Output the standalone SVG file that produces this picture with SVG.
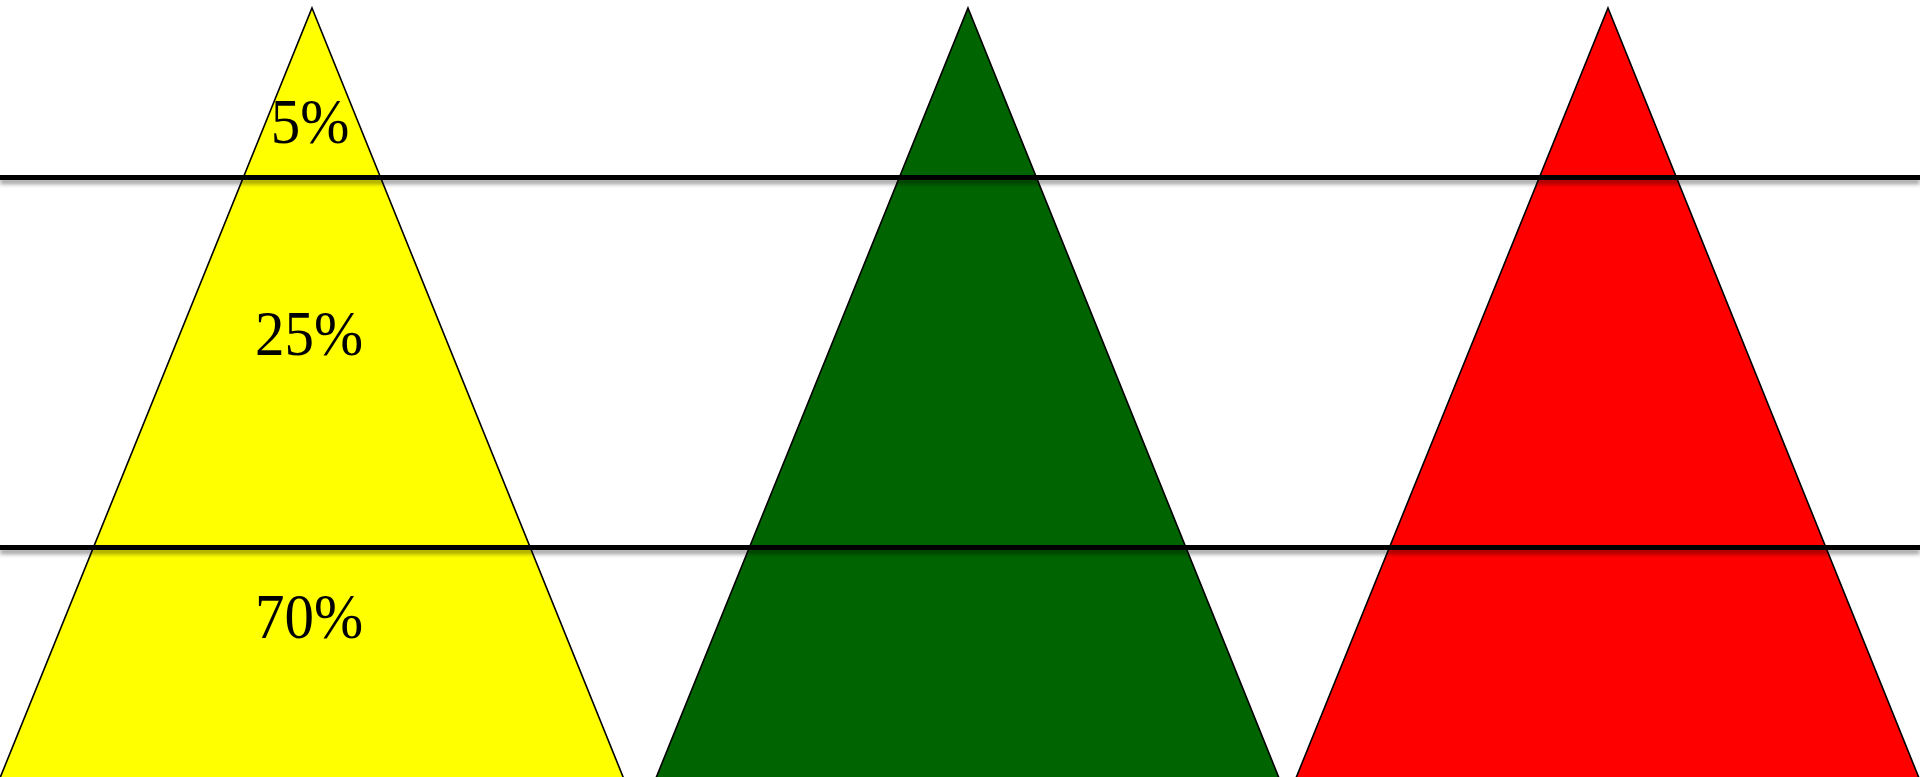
<svg xmlns="http://www.w3.org/2000/svg" width="1920" height="777" viewBox="0 0 1920 777">
<defs>
<style>
.tri{stroke:#000;stroke-width:1.6;stroke-linejoin:miter}
.lbl{font-family:"Liberation Serif","Times New Roman",Times,serif;font-size:59px;fill:#000;text-anchor:middle}
.hl{stroke:#000;stroke-width:5;filter:url(#sh)}
</style>
<filter id="sh" filterUnits="userSpaceOnUse" x="-10" y="0" width="1940" height="777">
<feDropShadow dx="0" dy="4" stdDeviation="2" flood-color="#000" flood-opacity="0.4"/>
</filter>
</defs>
<rect width="1920" height="777" fill="#fff"/>
<g id="pyramid-yellow">
<polygon class="tri" fill="#ffff00" points="312,8 623.5,778 0,778"/>
<text class="lbl" transform="translate(310,143) scale(1,1.08)">5%</text>
<text class="lbl" transform="translate(309,355) scale(1,1.08)">25%</text>
<text class="lbl" transform="translate(309,638) scale(1,1.08)">70%</text>
</g>
<g id="pyramid-green">
<polygon class="tri" fill="#006400" points="968,8 1279,778 656,778"/>
</g>
<g id="pyramid-red">
<polygon class="tri" fill="#ff0000" points="1608,8 1919,778 1296,778"/>
</g>
<g id="connectors">
<line class="hl" x1="0" y1="177.5" x2="1920" y2="177.5"/>
<line class="hl" x1="0" y1="547.5" x2="1920" y2="547.5"/>
</g>
</svg>
